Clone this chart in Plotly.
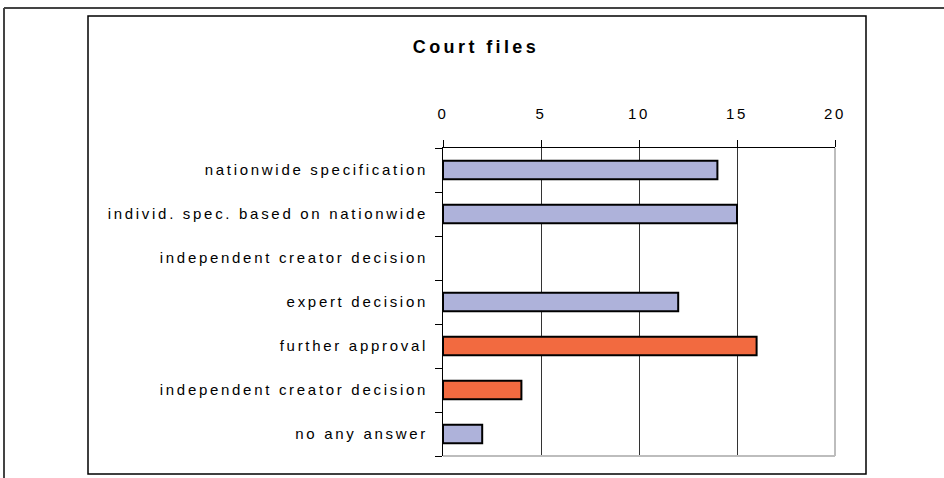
import plotly.graph_objects as go

# ---- data ----
categories = [
    "nationwide specification",
    "individ. spec. based on nationwide",
    "independent creator decision",
    "expert decision",
    "further approval",
    "independent creator decision",
    "no any answer",
]
values = [14, 15, 0, 12, 16, 4, 2]
groups = ["blue", "blue", "blue", "blue", "orange", "orange", "blue"]
x_ticks = [0, 5, 10, 15, 20]
title_text = "Court files"

# ---- styling ----
W, H = 944, 478
L, R, T, B = 443, 835, 148, 456  # plot area in pixels
color_map = {"blue": "#AEB2DA", "orange": "#F26A40"}
font_family = "Liberation Sans, Arial, sans-serif"

positions = list(range(len(categories)))

fig = go.Figure()
fig.add_trace(go.Bar(
    x=values,
    y=positions,
    orientation="h",
    width=0.42,
    marker=dict(color=[color_map[g] for g in groups],
                line=dict(color="black", width=[2 if v > 0 else 0 for v in values])),
    hoverinfo="x",
))

def px_x(p):
    return (p - L) / (R - L)

def px_y(p):
    return (B - p) / (B - T)

shapes = [
    # page border lines (top, left)
    dict(type="line", xref="paper", yref="paper", x0=px_x(4), x1=px_x(W + 2), y0=px_y(8), y1=px_y(8),
         line=dict(color="#444", width=2)),
    dict(type="line", xref="paper", yref="paper", x0=px_x(4), x1=px_x(4), y0=px_y(8), y1=px_y(H + 2),
         line=dict(color="#444", width=2)),
    # chart frame
    dict(type="rect", xref="paper", yref="paper", x0=px_x(88), x1=px_x(866), y0=px_y(16), y1=px_y(474),
         line=dict(color="black", width=1.5), layer="below"),
    # light plot-area border (right & bottom)
    dict(type="line", xref="x domain", yref="y domain", x0=1, x1=1, y0=0, y1=1,
         line=dict(color="#BDBDBD", width=2), layer="above"),
    dict(type="line", xref="x domain", yref="y domain", x0=0, x1=1, y0=0, y1=0,
         line=dict(color="#BDBDBD", width=2), layer="above"),
]

fig.update_layout(
    width=W, height=H,
    margin=dict(l=L, r=W - R, t=T, b=H - B),
    paper_bgcolor="white",
    plot_bgcolor="white",
    showlegend=False,
    font=dict(family=font_family, size=15, color="black"),
    title=dict(text="<b>" + title_text + "</b>", x=476 / W, xanchor="center",
               y=1 - 47 / H, yanchor="middle", yref="container",
               font=dict(family=font_family, size=18, color="black")),
    shapes=shapes,
    xaxis=dict(
        side="top", range=[0, 20], tickvals=x_ticks,
        showline=True, linecolor="black", linewidth=1,
        ticks="outside", ticklen=7, tickcolor="black", tickwidth=1,
        showgrid=True, gridcolor="#333", gridwidth=1,
        zeroline=False, ticklabelstandoff=15,
        tickfont=dict(size=15),
        fixedrange=True,
    ),
    yaxis=dict(
        range=[len(categories) - 0.5, -0.5],
        tickmode="array", tickvals=positions, ticktext=categories,
        ticks="", showgrid=False, zeroline=False,
        showline=True, linecolor="black", linewidth=1,
        minor=dict(ticks="outside", ticklen=7, tickcolor="black", tickwidth=1,
                   tick0=0.5, dtick=1, showgrid=False),
        ticklabelstandoff=11,
        tickfont=dict(size=15),
        fixedrange=True,
    ),
)

post = """
document.body.style.margin = '0';
var s = document.createElement('style');
s.textContent = 'body{margin:0 !important;} .xtick text, .ytick text {letter-spacing: 2.7px;} .gtitle {letter-spacing: 3.4px;}';
document.head.appendChild(s);
"""

fig.write_html("out.html", post_script=post, config={"displayModeBar": False})
